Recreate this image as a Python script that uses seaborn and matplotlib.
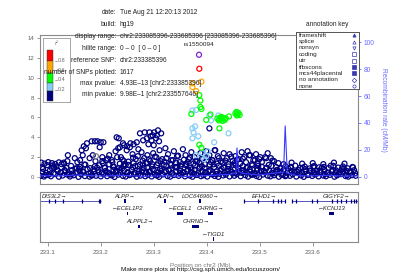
import pandas as pd
import matplotlib
matplotlib.use('Agg')
import matplotlib.pyplot as plt
import seaborn as sns

# ---------------- data ----------------
# navy (r2 < 0.2) SNPs, -log10(p) vs position (Mb)
navy_row1_pos = [233.087, 233.093, 233.101, 233.106, 233.114, 233.121, 233.128, 233.137, 233.142, 233.149,
                 233.158, 233.163, 233.170, 233.179, 233.184, 233.191, 233.200, 233.205, 233.212, 233.221,
                 233.226, 233.233, 233.242, 233.247, 233.254, 233.263, 233.268, 233.275, 233.284, 233.289,
                 233.296, 233.305, 233.310, 233.317, 233.326, 233.331, 233.338, 233.347, 233.352, 233.359,
                 233.368, 233.373, 233.380, 233.389, 233.394, 233.401, 233.410, 233.415, 233.422, 233.431,
                 233.436, 233.443, 233.452, 233.457, 233.464, 233.473, 233.478, 233.485, 233.494, 233.499,
                 233.506, 233.515, 233.520, 233.527, 233.536, 233.541, 233.548, 233.557, 233.562, 233.569,
                 233.578, 233.583, 233.590, 233.599, 233.604, 233.611, 233.620, 233.625, 233.632, 233.641,
                 233.646, 233.653, 233.662, 233.667, 233.674, 233.681]
navy_row1_val = [0.12, 0.05, 0.21, 0.08, 0.30, 0.03, 0.15, 0.25, 0.06, 0.18,
                 0.02, 0.27, 0.10, 0.04, 0.22, 0.13, 0.07, 0.31, 0.09, 0.16,
                 0.01, 0.24, 0.11, 0.05, 0.19, 0.28, 0.03, 0.14, 0.08, 0.23,
                 0.06, 0.17, 0.02, 0.26, 0.10, 0.04, 0.20, 0.12, 0.29, 0.07,
                 0.15, 0.03, 0.22, 0.09, 0.18, 0.05, 0.27, 0.11, 0.02, 0.16,
                 0.24, 0.06, 0.13, 0.30, 0.08, 0.19, 0.04, 0.21, 0.10, 0.01,
                 0.25, 0.14, 0.07, 0.18, 0.03, 0.23, 0.09, 0.12, 0.28, 0.05,
                 0.16, 0.02, 0.20, 0.11, 0.26, 0.06, 0.15, 0.08, 0.22, 0.03,
                 0.17, 0.29, 0.10, 0.04, 0.19, 0.13]
navy_row2_pos = [233.090, 233.097, 233.104, 233.111, 233.118, 233.125, 233.133, 233.139, 233.146, 233.153,
                 233.160, 233.167, 233.175, 233.181, 233.188, 233.195, 233.202, 233.209, 233.216, 233.224,
                 233.230, 233.237, 233.244, 233.251, 233.258, 233.266, 233.272, 233.279, 233.286, 233.293,
                 233.300, 233.308, 233.314, 233.321, 233.328, 233.335, 233.342, 233.350, 233.356, 233.363,
                 233.370, 233.377, 233.384, 233.392, 233.398, 233.405, 233.412, 233.419, 233.426, 233.434,
                 233.440, 233.447, 233.454, 233.461, 233.468, 233.476, 233.482, 233.489, 233.496, 233.503,
                 233.510, 233.518, 233.524, 233.531, 233.538, 233.545, 233.552, 233.560, 233.566, 233.573,
                 233.580, 233.587, 233.594, 233.602, 233.608, 233.615, 233.622, 233.629, 233.636, 233.644,
                 233.650, 233.657, 233.664, 233.671, 233.678]
navy_row2_val = [0.52, 0.41, 0.66, 0.38, 0.74, 0.47, 0.59, 0.36, 0.70, 0.44,
                 0.63, 0.50, 0.78, 0.40, 0.57, 0.68, 0.45, 0.61, 0.37, 0.72,
                 0.54, 0.43, 0.65, 0.49, 0.76, 0.39, 0.58, 0.69, 0.46, 0.53,
                 0.71, 0.42, 0.60, 0.48, 0.75, 0.38, 0.56, 0.67, 0.44, 0.62,
                 0.51, 0.73, 0.40, 0.58, 0.47, 0.69, 0.36, 0.55, 0.64, 0.43,
                 0.77, 0.50, 0.41, 0.60, 0.68, 0.46, 0.53, 0.39, 0.72, 0.57,
                 0.45, 0.63, 0.37, 0.66, 0.52, 0.74, 0.42, 0.59, 0.48, 0.70,
                 0.38, 0.56, 0.65, 0.44, 0.61, 0.50, 0.73, 0.40, 0.57, 0.67,
                 0.46, 0.54, 0.62, 0.43, 0.69]
navy_row3_pos = [233.089, 233.099, 233.108, 233.116, 233.126, 233.135, 233.144, 233.152, 233.161, 233.171,
                 233.180, 233.189, 233.197, 233.207, 233.216, 233.225, 233.234, 233.243, 233.252, 233.261,
                 233.270, 233.280, 233.288, 233.297, 233.306, 233.315, 233.324, 233.333, 233.342, 233.351,
                 233.360, 233.369, 233.378, 233.387, 233.396, 233.405, 233.414, 233.423, 233.432, 233.441,
                 233.450, 233.459, 233.468, 233.477, 233.486, 233.495, 233.504, 233.513, 233.522, 233.531,
                 233.540, 233.549, 233.558, 233.567, 233.576, 233.585, 233.594, 233.603, 233.612, 233.621,
                 233.630, 233.639, 233.648, 233.657, 233.666, 233.675]
navy_row3_val = [0.95, 1.20, 0.88, 1.05, 1.30, 0.92, 1.12, 0.86, 1.00, 1.25,
                 0.90, 1.08, 1.18, 0.94, 1.28, 1.02, 0.89, 1.15, 1.22, 0.97,
                 1.10, 1.27, 0.93, 1.06, 1.19, 0.87, 1.13, 1.24, 0.99, 1.09,
                 1.21, 0.91, 1.16, 1.03, 0.88, 1.26, 1.01, 1.14, 0.95, 1.07,
                 1.23, 0.90, 1.11, 0.98, 1.17, 0.86, 1.04, 0.93, 1.12, 1.00,
                 0.89, 1.08, 0.96, 1.15, 0.92, 1.05, 0.87, 1.10, 0.98, 1.02,
                 0.90, 1.13, 0.95, 1.06, 0.88, 1.01]
navy_row4_pos = [233.091, 233.103, 233.112, 233.124, 233.132, 233.141, 233.155, 233.166, 233.177, 233.186,
                 233.196, 233.208, 233.219, 233.229, 233.240, 233.250, 233.259, 233.271, 233.281, 233.291,
                 233.302, 233.312, 233.323, 233.334, 233.344, 233.355, 233.365, 233.376, 233.386, 233.397,
                 233.407, 233.418, 233.428, 233.439, 233.449, 233.460, 233.470, 233.481, 233.491, 233.502,
                 233.512, 233.523, 233.533, 233.544, 233.554, 233.565, 233.575, 233.586, 233.596, 233.607,
                 233.617, 233.628, 233.638, 233.649, 233.659, 233.670, 233.680]
navy_row4_val = [0.82, 0.30, 0.95, 0.45, 0.70, 0.25, 0.88, 0.58, 0.35, 0.78,
                 0.48, 0.92, 0.28, 0.65, 0.85, 0.40, 0.72, 0.32, 0.90, 0.55,
                 0.27, 0.80, 0.62, 0.38, 0.96, 0.50, 0.74, 0.33, 0.86, 0.44,
                 0.68, 0.29, 0.83, 0.57, 0.36, 0.91, 0.47, 0.76, 0.31, 0.64,
                 0.87, 0.42, 0.71, 0.26, 0.84, 0.53, 0.37, 0.79, 0.60, 0.34,
                 0.93, 0.46, 0.69, 0.30, 0.81, 0.56, 0.39]
navy_row5_pos = [233.095, 233.110, 233.119, 233.131, 233.147, 233.159, 233.169, 233.183, 233.193, 233.204,
                 233.214, 233.223, 233.236, 233.245, 233.256, 233.265, 233.277, 233.287, 233.298, 233.307,
                 233.319, 233.329, 233.340, 233.349, 233.361, 233.371, 233.382, 233.391, 233.403, 233.413,
                 233.424, 233.433, 233.445, 233.455, 233.466, 233.475, 233.487, 233.497, 233.508, 233.517,
                 233.529, 233.539, 233.550, 233.559, 233.571, 233.581, 233.592, 233.601, 233.613, 233.623,
                 233.634, 233.643, 233.655, 233.665, 233.676]
navy_row5_val = [0.20, 1.15, 0.60, 1.35, 0.35, 0.85, 1.25, 0.15, 0.95, 1.40,
                 0.45, 1.05, 0.70, 1.30, 0.25, 1.10, 0.55, 1.38, 0.80, 0.18,
                 1.20, 0.65, 1.00, 0.40, 1.32, 0.75, 0.22, 1.08, 0.58, 1.28,
                 0.33, 0.98, 0.68, 1.18, 0.42, 0.90, 0.28, 1.12, 0.62, 1.22,
                 0.38, 0.88, 0.16, 1.02, 0.52, 0.94, 0.24, 1.06, 0.66, 0.30,
                 1.14, 0.48, 0.84, 0.20, 0.97]
navy_band_pos = [233.203, 233.213, 233.221, 233.231, 233.241, 233.252, 233.261, 233.270, 233.279, 233.291,
                 233.302, 233.313, 233.324, 233.336, 233.346, 233.357, 233.368, 233.379, 233.391, 233.400,
                 233.411, 233.423, 233.435, 233.446, 233.457, 233.468, 233.480, 233.491, 233.501, 233.512,
                 233.524]
navy_band_val = [1.60, 1.85, 1.70, 2.00, 1.75, 1.55, 1.95, 2.10, 1.65, 1.80,
                 2.05, 1.60, 1.90, 1.70, 2.15, 1.75, 1.95, 1.60, 1.85, 2.00,
                 1.70, 1.90, 1.65, 2.05, 1.75, 1.85, 2.20, 1.70, 2.00, 1.90,
                 1.65]
navy_mid_pos = [233.088, 233.094, 233.101, 233.108, 233.114, 233.121, 233.130, 233.137, 233.138, 233.151,
                233.156, 233.161, 233.164, 233.166, 233.172, 233.179, 233.185, 233.190, 233.198, 233.203,
                233.210, 233.216, 233.222, 233.228, 233.233, 233.238, 233.244, 233.249, 233.255, 233.260,
                233.266, 233.271, 233.277, 233.282, 233.288, 233.293, 233.299, 233.305, 233.311, 233.316,
                233.322, 233.327, 233.333, 233.338, 233.344, 233.349, 233.355, 233.360, 233.366, 233.371,
                233.377, 233.382, 233.388, 233.394, 233.399, 233.405, 233.410, 233.416, 233.421, 233.427,
                233.432, 233.438, 233.443, 233.449, 233.454, 233.460, 233.466, 233.471, 233.477, 233.482,
                233.488, 233.493, 233.499, 233.504, 233.510, 233.515, 233.521, 233.527, 233.535, 233.545,
                233.560, 233.580, 233.600, 233.620, 233.640, 233.660,
                233.236, 233.247, 233.262, 233.274, 233.286, 233.297, 233.308, 233.320, 233.331, 233.342,
                233.353, 233.364, 233.375, 233.386, 233.397, 233.408, 233.419, 233.430, 233.441, 233.452,
                233.463, 233.474, 233.485, 233.496]
navy_mid_val = [1.45, 1.35, 1.50, 1.40, 1.32, 1.48, 1.45, 1.60, 2.20, 1.90,
                1.50, 1.70, 2.70, 2.20, 2.90, 1.90, 2.20, 1.60, 3.00, 2.00,
                1.70, 2.20, 1.50, 2.60, 2.90, 2.00, 1.60, 2.70, 3.00, 2.30,
                1.80, 2.80, 2.50, 1.90, 2.20, 1.60, 2.40, 2.00, 2.70, 1.80,
                2.90, 2.30, 1.70, 2.60, 2.10, 1.50, 2.80, 2.20, 1.80, 2.50,
                2.00, 1.60, 2.40, 1.90, 2.60, 2.20, 1.70, 2.70, 2.10, 1.60,
                2.40, 1.90, 2.30, 1.60, 2.10, 1.80, 2.50, 2.00, 2.60, 2.20,
                1.70, 2.30, 1.80, 1.50, 2.00, 2.40, 1.90, 1.60, 1.40, 1.30,
                1.45, 1.35, 1.40, 1.30, 1.45, 1.35,
                1.35, 1.20, 1.40, 1.25, 1.45, 1.30, 1.40, 1.55, 1.35, 1.45,
                1.30, 1.50, 1.35, 1.45, 1.30, 1.50, 1.35, 1.45, 1.30, 1.40,
                1.35, 1.50, 1.30, 1.40]
navy_high_pos = [233.183, 233.189, 233.194, 233.200, 233.205, 233.174, 233.168, 233.230, 233.234, 233.242,
                 233.236, 233.244, 233.250, 233.256, 233.262, 233.268, 233.274, 233.283, 233.292, 233.301,
                 233.308, 233.314, 233.287, 233.296, 233.304, 233.310, 233.280, 233.298, 233.306, 233.290,
                 233.300, 233.294, 233.405, 233.415]
navy_high_val = [3.60, 3.60, 3.60, 3.50, 3.50, 3.40, 3.10, 4.00, 3.90, 3.40,
                 3.00, 3.20, 3.10, 3.40, 3.30, 3.50, 4.40, 4.50, 4.50, 4.50,
                 4.70, 4.40, 3.90, 3.70, 3.90, 3.60, 3.70, 4.20, 4.20, 3.30,
                 3.20, 4.10, 4.90, 2.70]

gray_pos = [233.191]
gray_val = [2.10]
lightblue_pos = [233.380, 233.373, 233.405, 233.408, 233.422, 233.457, 233.378, 233.373, 233.375, 233.384,
                 233.373, 233.441, 233.414, 233.392, 233.399, 233.380, 233.395, 233.402]
lightblue_val = [6.75, 6.70, 6.20, 5.70, 6.20, 6.50, 5.10, 4.90, 4.50, 4.10,
                 3.90, 4.40, 3.50, 2.40, 2.10, 2.20, 1.80, 2.60]
green_pos = [233.386, 233.388, 233.388, 233.390, 233.371, 233.407, 233.399, 233.420, 233.423, 233.426,
             233.428, 233.430, 233.432, 233.434, 233.424, 233.428, 233.436, 233.442, 233.454, 233.456,
             233.458, 233.460, 233.462, 233.457, 233.424, 233.386, 233.390]
green_val = [8.25, 7.70, 7.05, 6.85, 6.35, 6.30, 5.75, 5.90, 5.70, 6.00,
             5.80, 5.65, 5.95, 5.75, 5.85, 6.05, 5.90, 6.10, 6.40, 6.55,
             6.30, 6.45, 6.25, 6.20, 4.90, 3.25, 2.95]
orange_pos = [233.390, 233.373, 233.373, 233.380]
orange_val = [9.60, 9.45, 9.05, 8.65]
red_pos = [233.386]
red_val = [10.90]
lead_pos = [233.385396]
lead_val = [12.31]
lead_name = 'rs1550094'

# recombination rate (cM/Mb)
recomb_pos = [233.0854, 233.120, 233.160, 233.200, 233.240, 233.280, 233.320, 233.360, 233.400, 233.445,
              233.455, 233.457, 233.460, 233.470, 233.500, 233.530, 233.545, 233.548, 233.552, 233.570,
              233.600, 233.630, 233.660, 233.6854]
recomb_rate = [1.0, 0.8, 1.5, 0.6, 1.2, 0.5, 0.9, 0.4, 1.0, 2.0,
               3.0, 21.5, 4.0, 2.5, 1.5, 3.0, 3.5, 37.8, 3.0, 1.0,
               0.8, 1.2, 0.6, 0.9]

# genes
gene_names = ['DIS3L2', 'ALPP', 'ALPI', 'LOC646960', 'EFHD1', 'GIGYF2',
              'ECEL1P2', 'ECEL1', 'CHRNG', 'KCNJ13', 'ALPPL2', 'CHRND', 'TIGD1']
gene_start = [233.0854, 233.243, 233.320, 233.386, 233.471, 233.561,
              233.249, 233.344, 233.403, 233.630, 233.271, 233.373, 233.411]
gene_end = [233.200, 233.247, 233.324, 233.390, 233.548, 233.6854,
            233.252, 233.355, 233.411, 233.641, 233.275, 233.386, 233.414]
gene_strand = ['+', '+', '+', '+', '+', '+', '-', '-', '+', '-', '+', '+', '-']
gene_row = [0, 0, 0, 0, 0, 0, 1, 1, 1, 1, 2, 2, 3]
gene_label_x = [233.112, 233.245, 233.322, 233.388, 233.508, 233.644,
                233.2505, 233.3495, 233.407, 233.6355, 233.273, 233.3795, 233.4125]
gene_exons = {
    'DIS3L2': [233.102, 233.114, 233.129, 233.164, 233.196, 233.199],
    'EFHD1': [233.471, 233.497, 233.525, 233.535, 233.540, 233.548],
    'GIGYF2': [233.561, 233.568, 233.599, 233.608, 233.636, 233.646, 233.653,
               233.662, 233.672, 233.677, 233.681],
}

info_labels = ['date:', 'build:', 'display range:', 'hilite range:', 'reference SNP:',
               'number of SNPs plotted:', 'max pvalue:', 'min pvalue:']
info_values = ['Tue Aug 21 12:20:13 2012', 'hg19',
               'chr2:233085396-233685396 [233085396-233685396]',
               '0 \u2013 0  [ 0 \u2013 0 ]', 'chr2:233385396', '1617',
               '4.93E\u201313 [chr2:233385396]', '9.98E\u20131 [chr2:233557646]']

annot_names = ['frameshift', 'splice', 'nonsyn', 'coding', 'utr', 'tfbscons',
               'mcs44placental', 'no annotation', 'none']
annot_markers = ['^', '^', 'v', 's', 's', 's', 's', 'D', 'o']
annot_filled = [True, False, False, False, False, True, True, False, False]

r2_labels = ['0.8', '0.6', '0.4', '0.2']

# ---------------- plot ----------------
sns.set_style('white')
plt.rcParams['font.family'] = ['Liberation Sans', 'DejaVu Sans']

W, H = 399, 279
fig = plt.figure(figsize=(W / 100, H / 100), dpi=100)


def box(x0, y0, x1, y1):
    return [x0 / W, 1 - y1 / H, (x1 - x0) / W, (y1 - y0) / H]


XMIN, XMAX = 233.085396, 233.685396
frame = '#8a8a8a'
tickc = '#606060'
recomb_c = '#6a6aff'

ld_colors = {'navy': '#000080', 'gray': '#7f7f7f', 'lightblue': '#87cefa',
             'green': '#00ff00', 'orange': '#ffa500', 'red': '#ff0000', 'lead': '#7d26cd'}
groups = [
    ('navy', navy_row1_pos + navy_row2_pos + navy_row3_pos + navy_row4_pos + navy_row5_pos
     + navy_band_pos + navy_mid_pos + navy_high_pos,
     navy_row1_val + navy_row2_val + navy_row3_val + navy_row4_val + navy_row5_val
     + navy_band_val + navy_mid_val + navy_high_val),
    ('gray', gray_pos, gray_val),
    ('lightblue', lightblue_pos, lightblue_val),
    ('green', green_pos, green_val),
    ('orange', orange_pos, orange_val),
    ('red', red_pos, red_val),
    ('lead', lead_pos, lead_val),
]
frames = []
for name, p, v in groups:
    n = min(len(p), len(v))
    frames.append(pd.DataFrame({'pos': p[:n], 'logp': v[:n], 'ld': name}))
snps = pd.concat(frames, ignore_index=True)

ax = fig.add_axes(box(40, 35, 358, 184))
for name in ld_colors:
    sub = snps[snps['ld'] == name]
    c = ld_colors[name]
    sns.scatterplot(data=sub, x='pos', y='logp', ax=ax, s=13, marker='o', color=c,
                    linewidth=0.9, legend=False, zorder=3)
    pts = ax.collections[-1]
    pts.set_facecolor('none')
    pts.set_edgecolor(c)

ax.set_xlim(XMIN, XMAX)
ax.set_ylim(-0.7, 14.3)
ax.set_xticks([])
ax.set_yticks(range(0, 15, 2))
ax.set_xlabel('')
ax.set_ylabel('')
ax.tick_params(axis='y', left=True, length=2.5, width=0.6, color=frame,
               labelsize=4.4, labelcolor=tickc, pad=1.5)
for s in ax.spines.values():
    s.set_color(frame)
    s.set_linewidth(0.8)
ax.text(lead_pos[0], 13.3, lead_name, ha='center', va='center', fontsize=4.6, color='#222222')

ax2 = ax.twinx()
sns.lineplot(x=recomb_pos, y=recomb_rate, ax=ax2, color='#3a3aff', linewidth=0.8, zorder=2)
ax2.set_xlim(XMIN, XMAX)
ax2.set_ylim(-5.2, 105.2)
ax2.set_yticks(range(0, 101, 20))
ax2.tick_params(axis='y', right=True, length=2.5, width=0.6, color=recomb_c,
                labelsize=4.8, labelcolor=recomb_c, pad=1.5)
for s in ax2.spines.values():
    s.set_visible(False)
fig.text(383 / W, 1 - 110 / H, 'Recombination rate (cM/Mb)', rotation=270,
         ha='center', va='center', fontsize=4.8, color=recomb_c)

# gene panel
gx = fig.add_axes(box(40, 192, 358, 242))
gx.set_xlim(XMIN, XMAX)
gx.set_ylim(50, 0)
row_y = [9, 21.5, 34.5, 47]
gene_c = '#000080'
for i, g in enumerate(gene_names):
    y = row_y[gene_row[i]]
    if g in gene_exons:
        gx.hlines(y, gene_start[i], gene_end[i], color='#3b3bb0', linewidth=0.6)
        gx.vlines(gene_exons[g], y - 1.6, y + 1.6, color=gene_c, linewidth=0.9)
    else:
        gx.barh(y, gene_end[i] - gene_start[i], left=gene_start[i], height=3.2,
                color=gene_c, linewidth=0)
    lab = g + '\u2192' if gene_strand[i] == '+' else '\u2190' + g
    gx.text(gene_label_x[i], y - 5, lab, ha='center', va='center', fontsize=4.2,
            style='italic', color='#222222')
gx.set_yticks([])
gx.set_xticks([233.1, 233.2, 233.3, 233.4, 233.5, 233.6])
gx.set_xticklabels(['233.1', '233.2', '233.3', '233.4', '233.5', '233.6'])
gx.tick_params(axis='x', bottom=True, length=3, width=0.6, color=frame,
               labelsize=4.5, labelcolor=tickc, pad=3)
for s in gx.spines.values():
    s.set_color(frame)
    s.set_linewidth(0.8)

fig.text(200 / W, 1 - 265 / H, 'Position on chr2 (Mb)', ha='center', va='center',
         fontsize=4.6, color='#777777')
fig.text(200 / W, 1 - 269.5 / H, 'Make more plots at http://csg.sph.umich.edu/locuszoom/',
         ha='center', va='center', fontsize=4.6, color='#111111')

# r2 legend
rax = fig.add_axes(box(43, 38, 70, 102))
rax.set_xlim(43, 70)
rax.set_ylim(102, 38)
band_edges = [50, 61, 73, 83, 91, 101]
band_cols = ['#ff0000', '#ffa500', '#00ff00', '#87cefa', '#000080']
for j, c in enumerate(band_cols):
    rax.bar(50, band_edges[j + 1] - band_edges[j], bottom=band_edges[j], width=6,
            color=c, edgecolor='#333333', linewidth=0.3)
for lab, yy in zip(r2_labels, [61, 70, 79.5, 89.5]):
    rax.plot([54.5, 56.5], [yy, yy], color='#777777', linewidth=0.5)
    rax.text(57.5, yy, lab, ha='left', va='center', fontsize=3.9, color='#666666')
rax.text(56.5, 43.5, 'r\u00b2', ha='center', va='center', fontsize=4, color='#777777', style='italic')
rax.set_xticks([])
rax.set_yticks([])
rax.patch.set_alpha(0)
for s in rax.spines.values():
    s.set_color('#999999')
    s.set_linewidth(0.6)

# header text
info_y = [12.5, 24, 36, 48, 60.5, 72, 83.5, 95]
for lab, val, yy in zip(info_labels, info_values, info_y):
    fig.text(116.5 / W, 1 - yy / H, lab, ha='right', va='center', fontsize=4.8, color='#222222')
    fig.text(119.5 / W, 1 - yy / H, val, ha='left', va='center', fontsize=4.8, color='#222222')

# annotation key
fig.text(327 / W, 1 - 24 / H, 'annotation key', ha='center', va='center', fontsize=4.7, color='#222222')
kax = fig.add_axes(box(296, 32, 359, 89))
kax.set_xlim(296, 359)
kax.set_ylim(89, 32)
kax.set_xticks([])
kax.set_yticks([])
kax.patch.set_facecolor('white')
for s in kax.spines.values():
    s.set_color('#555555')
    s.set_linewidth(0.7)
for i, (nm, mk, fl) in enumerate(zip(annot_names, annot_markers, annot_filled)):
    yy = 35.3 + 6.35 * i
    kax.text(298.5, yy, nm, ha='left', va='center', fontsize=4.6, color='#222222')
    kax.plot([354], [yy], marker=mk, markersize=2.3, markeredgewidth=0.5,
             color='#3a3ab0', markerfacecolor='#3a3ab0' if fl else 'none', linestyle='none')

fig.savefig('out.png', dpi=100)
